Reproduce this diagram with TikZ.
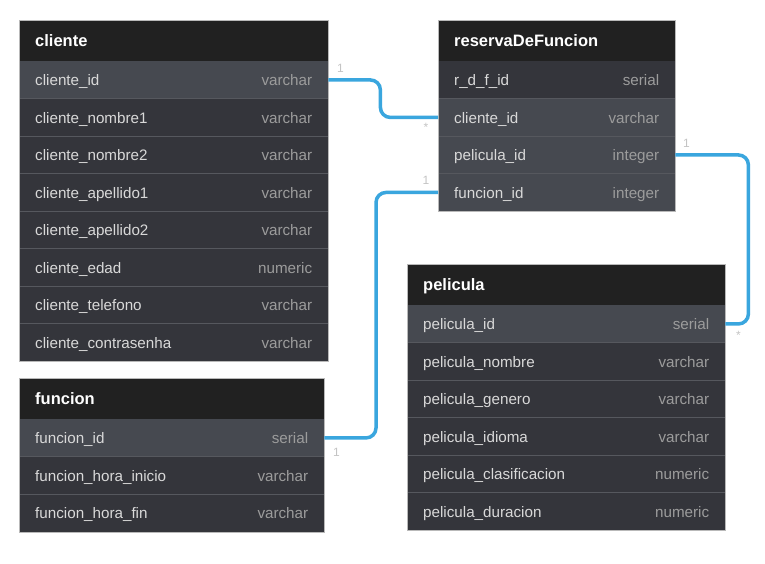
\documentclass[tikz,border=0pt]{standalone}
\usepackage{fontspec}
\setmainfont{Liberation Sans}
\definecolor{cabeza}{HTML}{212121}
\definecolor{normal}{HTML}{34353B}
\definecolor{resalte}{HTML}{464950}
\definecolor{linea}{HTML}{56585E}
\definecolor{nombre}{HTML}{D9D9D9}
\definecolor{tipo}{HTML}{9C9C9C}
\definecolor{azul}{HTML}{3AA6DE}
\definecolor{marca}{HTML}{C4C4C4}

\begin{document}
\begin{tikzpicture}[x=1pt,y=-1pt,
    cabecera/.style={anchor=north west,fill=cabeza,text=white,minimum height=41pt,text height=12pt,text depth=0pt,
        inner xsep=16pt,inner ysep=0pt,align=left,font=\fontsize{16.5}{18}\selectfont\bfseries},
    fila/.style={anchor=north west,text=nombre,minimum height=37.5pt,text height=13pt,text depth=1pt,
        inner xsep=16pt,inner ysep=0pt,align=left,font=\fontsize{15.2}{18}\selectfont},
    separador/.style={draw=linea,line width=.8pt},
    borde/.style={draw=gray!55,line width=.6pt},
    relacion/.style={draw=azul,line width=3.5pt,rounded corners=10pt},
    cardinal/.style={text=marca,inner sep=0pt,font=\fontsize{12}{14}\selectfont}]
    \fill[white] (0,0) rectangle (765,563);
    \useasboundingbox (0,0) rectangle (765,563);
    % #1 nombre, #2 x, #3 y, #4 ancho, #5 titulo, #6 filas, #7 campos
    \def\tabla#1#2#3#4#5#6#7{%
        \pgfmathsetmacro\ancho{#4-32}
        \node[cabecera,text width=\ancho pt] (#1) at (#2,#3) {#5};
        \foreach \campo/\tipo/\fondo [count=\i] in {#7}{%
            \node[fila,fill=\fondo,text width=\ancho pt] (#1-\i) at (#2,{#3+41+(\i-1)*37.5})
                {\campo\hfill\textcolor{tipo}{\tipo}};
            \ifnum\i>1 \draw[separador] (#1-\i.north west) -- (#1-\i.north east);\fi
        }
        \draw[borde] (#1.north west) rectangle (#1-#6.south east);
    }
    \tabla{cliente}{19}{20}{309}{cliente}{8}{%
        cliente\_id/varchar/resalte,
        cliente\_nombre1/varchar/normal,
        cliente\_nombre2/varchar/normal,
        cliente\_apellido1/varchar/normal,
        cliente\_apellido2/varchar/normal,
        cliente\_edad/numeric/normal,
        cliente\_telefono/varchar/normal,
        cliente\_contrasenha/varchar/normal}
    \tabla{reserva}{438}{20}{237}{reservaDeFuncion}{4}{%
        r\_d\_f\_id/serial/normal,
        cliente\_id/varchar/resalte,
        pelicula\_id/integer/resalte,
        funcion\_id/integer/resalte}
    \tabla{funcion}{19}{378}{305}{funcion}{3}{%
        funcion\_id/serial/resalte,
        funcion\_hora\_inicio/varchar/normal,
        funcion\_hora\_fin/varchar/normal}
    \tabla{pelicula}{407}{264}{318}{pelicula}{6}{%
        pelicula\_id/serial/resalte,
        pelicula\_nombre/varchar/normal,
        pelicula\_genero/varchar/normal,
        pelicula\_idioma/varchar/normal,
        pelicula\_clasificacion/numeric/normal,
        pelicula\_duracion/numeric/normal}

    % relaciones
    \draw[relacion] (cliente-1.east) -- ++(52,0) |- (reserva-2.west);
    \draw[relacion] (reserva-3.east) -- ++(73,0) |- (pelicula-1.east);
    \draw[relacion] (reserva-4.west) -- ++(-62,0) |- (funcion-1.east);

    \node[cardinal] (c-uno) at ([shift={(12,-12)}]cliente-1.east) {1};
    \node[cardinal] (c-muchos) at ([shift={(-12,10)}]reserva-2.west) {*};
    \node[cardinal] (p-uno) at ([shift={(11,-12)}]reserva-3.east) {1};
    \node[cardinal] (p-muchos) at ([shift={(13,11)}]pelicula-1.east) {*};
    \node[cardinal] (f-uno) at ([shift={(-12,-12)}]reserva-4.west) {1};
    \node[cardinal] (f-otro) at ([shift={(12,14)}]funcion-1.east) {1};
\end{tikzpicture}
\end{document}
